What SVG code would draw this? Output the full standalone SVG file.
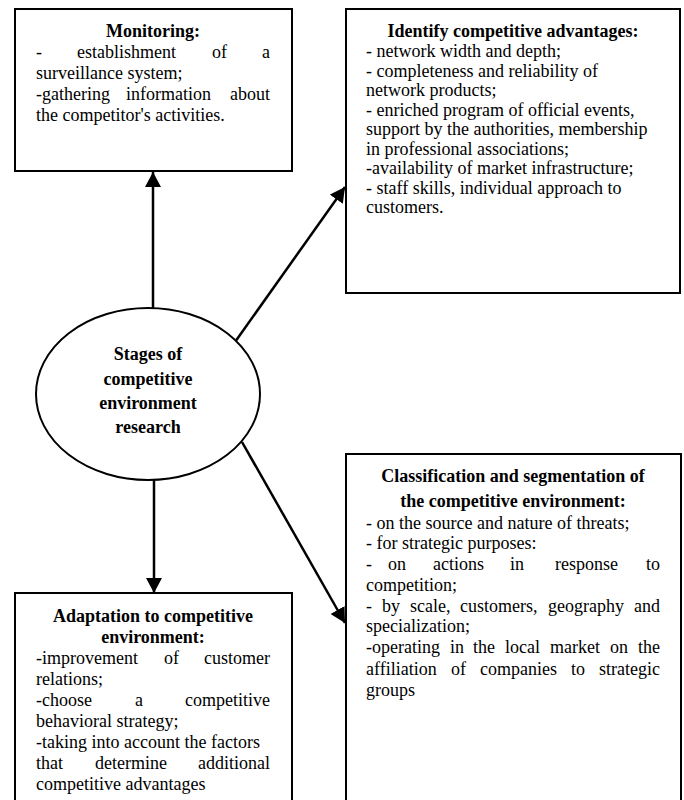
<svg xmlns="http://www.w3.org/2000/svg" width="684" height="800" viewBox="0 0 684 800">
<style>
.box{fill:#fff;stroke:#000;stroke-width:2}
.ell{fill:#fff;stroke:#000;stroke-width:2}
text{font-family:"Liberation Serif","Times New Roman",serif;font-size:18px;fill:#000}
.t{font-weight:bold;text-anchor:middle}
.e{text-anchor:end}
.con{stroke:#000;stroke-width:2.5;fill:none;marker-end:url(#ah)}
</style>
<defs>
<marker id="ah" markerUnits="userSpaceOnUse" markerWidth="16" markerHeight="16" refX="15" refY="8" orient="auto">
<path d="M0,0 L15,8 L0,16 z" fill="#000"/>
</marker>
</defs>
<rect width="684" height="800" fill="#fff"/>
<g id="connectors">
<line class="con" x1="153" y1="308" x2="153" y2="172"/>
<line class="con" x1="235" y1="342" x2="345" y2="187"/>
<line class="con" x1="242" y1="442" x2="345" y2="623"/>
<line class="con" x1="154" y1="480" x2="154" y2="593"/>
</g>
<g id="monitoring">
<rect class="box" x="15" y="9" width="277" height="162"/>
<text class="t" x="153" y="37">Monitoring:</text>
<text x="36" y="58">-</text><text x="77" y="58">establishment</text><text x="212" y="58">of</text><text class="e" x="270" y="58">a</text>
<text x="36" y="79">surveillance system;</text>
<text x="36" y="100">-gathering</text><text x="126" y="100">information</text><text class="e" x="270" y="100">about</text>
<text x="36" y="121">the competitor's activities.</text>
</g>
<g id="identify">
<rect class="box" x="346" y="9" width="334" height="284"/>
<text class="t" x="513" y="37">Identify competitive advantages:</text>
<text x="366" y="57">- network width and depth;</text>
<text x="366" y="77">- completeness and reliability of</text>
<text x="366" y="96">network products;</text>
<text x="366" y="116">- enriched program of official events,</text>
<text x="366" y="135">support by the authorities, membership</text>
<text x="366" y="155">in professional associations;</text>
<text x="366" y="174">-availability of market infrastructure;</text>
<text x="366" y="194" fill="#222">- staff skills, individual approach to</text>
<text x="366" y="213" fill="#222">customers.</text>
</g>
<g id="stages">
<ellipse class="ell" cx="148" cy="394" rx="112" ry="86"/>
<text class="t" x="148" y="360">Stages of</text>
<text class="t" x="148" y="385">competitive</text>
<text class="t" x="148" y="409">environment</text>
<text class="t" x="148" y="433">research</text>
</g>
<g id="classification">
<rect class="box" x="346" y="454" width="335" height="360"/>
<text class="t" x="513" y="482">Classification and segmentation of</text>
<text class="t" x="513" y="507">the competitive environment:</text>
<text x="366" y="529">- on the source and nature of threats;</text>
<text x="366" y="549">- for strategic purposes:</text>
<text x="366" y="570">-</text><text x="388" y="570">on</text><text x="433" y="570">actions</text><text x="510" y="570">in</text><text x="555" y="570">response</text><text class="e" x="660" y="570">to</text>
<text x="366" y="591">competition;</text>
<text x="366" y="612">-</text><text x="382" y="612">by</text><text x="410" y="612">scale,</text><text x="460" y="612">customers,</text><text x="548" y="612">geography</text><text class="e" x="660" y="612">and</text>
<text x="366" y="632">specialization;</text>
<text x="366" y="653">-operating</text><text x="450" y="653">in</text><text x="473" y="653">the</text><text x="505" y="653">local</text><text x="550" y="653">market</text><text x="610" y="653">on</text><text class="e" x="660" y="653">the</text>
<text x="366" y="675">affiliation</text><text x="451" y="675">of</text><text x="480" y="675">companies</text><text x="571" y="675">to</text><text class="e" x="660" y="675">strategic</text>
<text x="366" y="696">groups</text>
</g>
<g id="adaptation">
<rect class="box" x="15" y="593" width="277" height="220"/>
<text class="t" x="153" y="622">Adaptation to competitive</text>
<text class="t" x="153" y="643">environment:</text>
<text x="36" y="664">-improvement</text><text x="164" y="664">of</text><text class="e" x="270" y="664">customer</text>
<text x="36" y="685">relations;</text>
<text x="36" y="706">-choose</text><text x="135" y="706">a</text><text class="e" x="270" y="706">competitive</text>
<text x="36" y="727">behavioral strategy;</text>
<text x="36" y="748">-taking into account the factors</text>
<text x="36" y="769">that</text><text x="95" y="769">determine</text><text class="e" x="270" y="769">additional</text>
<text x="36" y="790">competitive advantages</text>
</g>
</svg>
